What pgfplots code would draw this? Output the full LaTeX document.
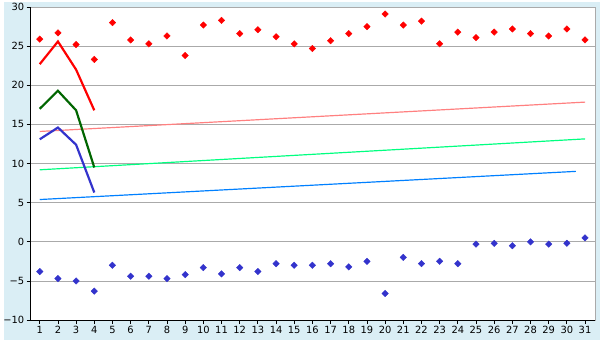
\documentclass[border=0pt]{standalone}
\usepackage{pgfplots}
\pgfplotsset{compat=1.18}
\usepackage{fontspec}
\setmainfont{DejaVu Sans}
\definecolor{bgblue}{HTML}{DAEEF5}
\definecolor{gridgray}{HTML}{AAAAAA}
\definecolor{tred}{HTML}{FF0000}
\definecolor{tgreen}{HTML}{006600}
\definecolor{tblue}{HTML}{3333CC}
\definecolor{lpink}{HTML}{FF8080}
\definecolor{lgreen}{HTML}{00FF80}
\definecolor{lblue}{HTML}{0080FF}
\begin{document}
\begin{tikzpicture}[x=1bp,y=1bp]
\fill[bgblue] (0,0) rectangle (600,340);
\begin{axis}[
  at={(27bp,20bp)}, anchor=south west,
  scale only axis, width=568bp, height=315bp,
  xmin=0.5, xmax=31.55, ymin=-10, ymax=30,
  xtick={1,...,31}, ytick={-10,-5,...,30},
  ymajorgrids, grid style={gridgray, line width=0.8pt},
  axis line style={gridgray, line width=1pt},
  tick style={black, line width=0.8pt},
  tick align=outside, major tick length=4bp,
  xtick pos=bottom, ytick pos=left,
  axis background/.style={fill=white},
  tick label style={font=\fontsize{10}{12}\selectfont},
  /pgf/number format/assume math mode=true,
  yticklabel={\ifdim\tick pt<0pt −\pgfmathparse{abs(\tick)}\pgfmathprintnumber{\pgfmathresult}\else\pgfmathprintnumber{\tick}\fi},
  xticklabel style={yshift=1bp},
  yticklabel style={xshift=1bp},
  clip=false,
  after end axis/.code={
    \draw[black, line width=1pt] (rel axis cs:0,1) -- (rel axis cs:0,0) -- (rel axis cs:1,0);
  },
]
% trend lines
\addplot[lpink, line width=1.2pt] coordinates {(1,14.1) (31,17.85)};
\addplot[lgreen, line width=1.2pt] coordinates {(1,9.2) (31,13.15)};
\addplot[lblue, line width=1.2pt] coordinates {(1,5.4) (30.5,9.0)};
% thick lines
\addplot[tred, line width=2.2pt] coordinates {(1,22.7) (2,25.6) (3,22.0) (4,16.8)};
\addplot[tgreen, line width=2.2pt] coordinates {(1,17.0) (2,19.3) (3,16.8) (4,9.5)};
\addplot[tblue, line width=2.2pt] coordinates {(1,13.1) (2,14.6) (3,12.4) (4,6.3)};
% max points
\addplot[only marks, mark=square*, mark size=2.3bp, mark options={rotate=45}, color=tred] coordinates {
(1,25.9) (2,26.7) (3,25.2) (4,23.3) (5,28.0) (6,25.8) (7,25.3) (8,26.3) (9,23.8) (10,27.7)
(11,28.3) (12,26.6) (13,27.1) (14,26.2) (15,25.3) (16,24.7) (17,25.7) (18,26.6) (19,27.5) (20,29.1)
(21,27.7) (22,28.2) (23,25.3) (24,26.8) (25,26.1) (26,26.8) (27,27.2) (28,26.6) (29,26.3) (30,27.2) (31,25.8)};
% min points
\addplot[only marks, mark=square*, mark size=2.3bp, mark options={rotate=45}, color=tblue] coordinates {
(1,-3.8) (2,-4.7) (3,-5.0) (4,-6.3) (5,-3.0) (6,-4.4) (7,-4.4) (8,-4.7) (9,-4.2) (10,-3.3)
(11,-4.1) (12,-3.3) (13,-3.8) (14,-2.8) (15,-3.0) (16,-3.0) (17,-2.8) (18,-3.2) (19,-2.5) (20,-6.6)
(21,-2.0) (22,-2.8) (23,-2.5) (24,-2.8) (25,-0.3) (26,-0.2) (27,-0.5) (28,0.0) (29,-0.3) (30,-0.2) (31,0.5)};
\end{axis}
\end{tikzpicture}
\end{document}
